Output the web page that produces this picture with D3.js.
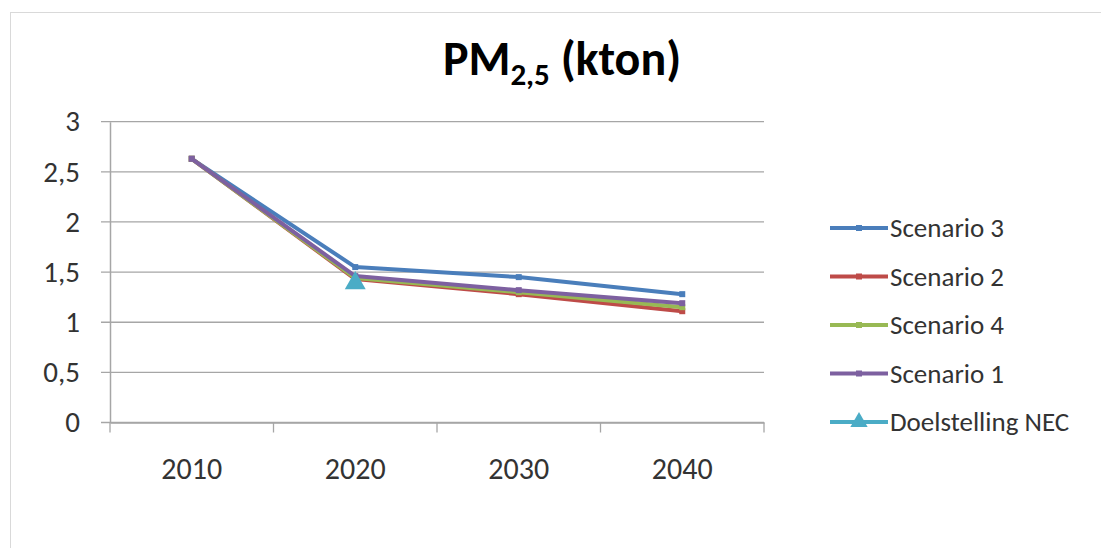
<!DOCTYPE html>
<html>
<head>
<meta charset="utf-8">
<script src="https://cdn.jsdelivr.net/npm/d3@7"></script>
<style>
  body { margin: 0; background: #fff; }
  svg { font-family: Carlito, Lato, "Open Sans", sans-serif; }
</style>
</head>
<body>
<svg width="1101" height="548"></svg>
<script>
let years = ["2010", "2020", "2030", "2040"];
let yTicks = [0, 0.5, 1, 1.5, 2, 2.5, 3];
let seriesNames = ["Scenario 3", "Scenario 2", "Scenario 4", "Scenario 1", "Doelstelling NEC"];
let colors = ["#4a7ebb", "#be4b48", "#98b954", "#7d60a0", "#4bacc6"];

let scenario3 = [2.63, 1.55, 1.45, 1.28];
let scenario2 = [2.63, 1.43, 1.28, 1.11];
let scenario4 = [2.63, 1.44, 1.30, 1.15];
let scenario1 = [2.63, 1.46, 1.32, 1.19];
let doelNEC = [null, 1.40, null, null];

let values = [scenario3, scenario2, scenario4, scenario1, doelNEC];

// plot area
let margin = {top: 121.7, left: 110, right: 764, bottom: 422.5};
let font = "Carlito, Lato, 'Open Sans', sans-serif";

let svg = d3.select("svg");

// outer chart frame
svg.append("rect")
   .attr("x", 10.5).attr("y", 12.5)
   .attr("width", 1200).attr("height", 600)
   .attr("fill", "none")
   .attr("stroke", "#d9d9d9");

let x = d3.scaleBand().domain(years).range([margin.left, margin.right]);
let y = d3.scaleLinear().domain([0, 3]).range([margin.bottom, margin.top]);

// gridlines
svg.append("g")
   .selectAll("line")
   .data(yTicks)
   .join("line")
   .attr("x1", margin.left - 9).attr("x2", margin.right)
   .attr("y1", d => y(d)).attr("y2", d => y(d))
   .attr("stroke", "#a6a6a6")
   .attr("stroke-width", 1.3);

// y axis
let yAxis = d3.axisLeft(y)
              .tickValues(yTicks)
              .tickSize(0)
              .tickPadding(30)
              .tickFormat(d => String(d).replace(".", ","));
svg.append("g")
   .attr("transform", `translate(${margin.left}, 0)`)
   .call(yAxis)
   .attr("font-family", font)
   .call(g => g.select(".domain").attr("stroke", "#a6a6a6").attr("stroke-width", 1.5))
   .selectAll("text")
   .attr("font-size", 29)
   .attr("fill", "#333");

// x axis
let xAxis = d3.axisBottom(x).tickSize(0).tickPadding(35);
let xg = svg.append("g")
   .attr("transform", `translate(0, ${margin.bottom})`)
   .call(xAxis)
   .attr("font-family", font);
xg.select(".domain").attr("stroke", "#a6a6a6").attr("stroke-width", 1.5);
xg.selectAll("text").attr("font-size", 30).attr("fill", "#333");
// category boundary ticks
xg.append("g")
  .selectAll("line")
  .data(years.concat(["end"]))
  .join("line")
  .attr("x1", (d, i) => margin.left + i * x.step())
  .attr("x2", (d, i) => margin.left + i * x.step())
  .attr("y1", 0).attr("y2", 10)
  .attr("stroke", "#a6a6a6")
  .attr("stroke-width", 1.3);

// lines
let line = d3.line()
             .defined(d => d.v !== null)
             .x(d => x(d.year) + x.bandwidth() / 2)
             .y(d => y(d.v));

values.forEach((vals, i) => {
  let pts = vals.map((v, j) => ({year: years[j], v: v}));
  svg.append("path")
     .datum(pts)
     .attr("d", line)
     .attr("fill", "none")
     .attr("stroke", colors[i])
     .attr("stroke-width", 4)
     .attr("stroke-linejoin", "round");
  if (i < 4) {
    svg.append("g")
       .selectAll("rect")
       .data(pts.filter(d => d.v !== null))
       .join("rect")
       .attr("x", d => x(d.year) + x.bandwidth() / 2 - 3)
       .attr("y", d => y(d.v) - 3)
       .attr("width", 6).attr("height", 6)
       .attr("fill", colors[i]);
  } else {
    svg.append("g")
       .selectAll("path")
       .data(pts.filter(d => d.v !== null))
       .join("path")
       .attr("d", d3.symbol(d3.symbolTriangle, 190))
       .attr("transform", d => `translate(${x(d.year) + x.bandwidth() / 2}, ${y(d.v) + 1})`)
       .attr("fill", colors[i]);
  }
});

// title
let title = svg.append("text")
   .attr("x", 562).attr("y", 75)
   .attr("text-anchor", "middle")
   .attr("font-size", 48)
   .attr("font-weight", "bold")
   .attr("fill", "#000");
title.append("tspan").text("PM");
title.append("tspan").text("2,5").attr("font-size", 31).attr("dy", 10);
title.append("tspan").text(" (kton)").attr("dy", -10);

// legend
let legend = svg.append("g").attr("transform", "translate(830, 228)");
let rows = legend.selectAll("g")
   .data(seriesNames)
   .join("g")
   .attr("transform", (d, i) => `translate(0, ${i * 48.5})`);
rows.append("line")
    .attr("x1", 0).attr("x2", 58)
    .attr("stroke", (d, i) => colors[i])
    .attr("stroke-width", 4);
rows.filter((d, i) => i === 4)
    .append("path")
    .attr("d", d3.symbol(d3.symbolTriangle, 130))
    .attr("transform", "translate(29, 0)")
    .attr("fill", colors[4]);
rows.filter((d, i) => i < 4)
    .append("rect")
    .attr("x", 26).attr("y", -3).attr("width", 6).attr("height", 6)
    .attr("fill", (d, i) => colors[i]);
rows.append("text")
    .attr("x", 60).attr("dy", "0.35em")
    .attr("font-size", 27)
    .attr("fill", "#333")
    .text(d => d);
</script>
</body>
</html>
